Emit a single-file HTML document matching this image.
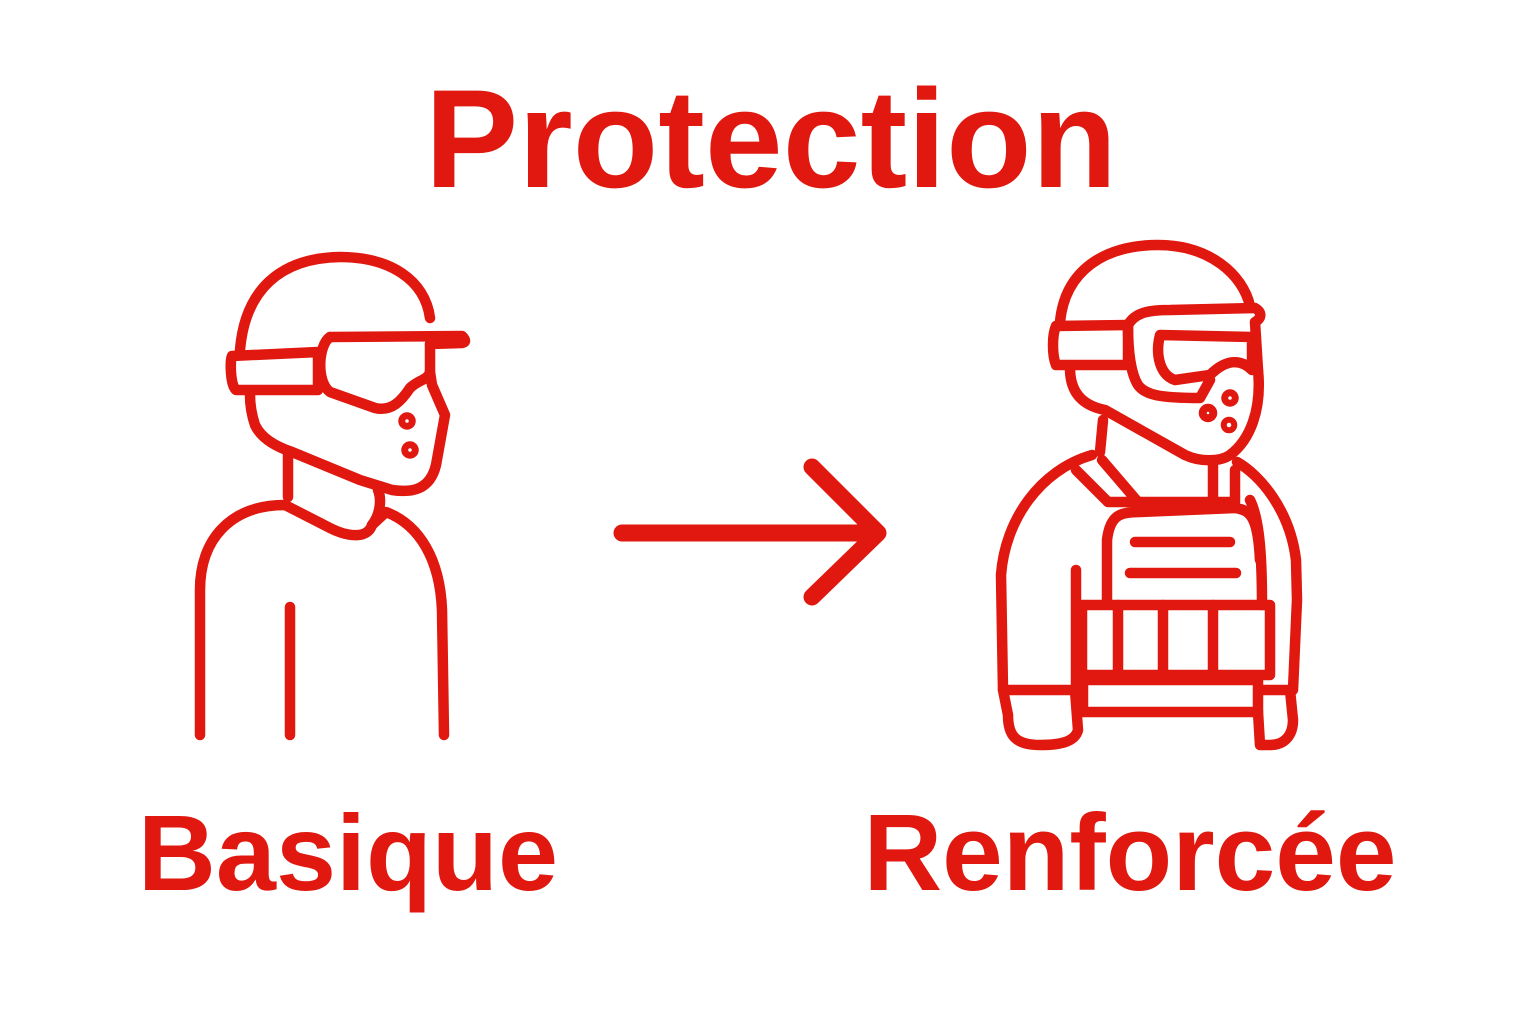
<!DOCTYPE html>
<html><head><meta charset="utf-8"><style>
html,body{margin:0;padding:0;background:#fff;}
svg{display:block}
text{font-family:"Liberation Sans",sans-serif;font-weight:bold;fill:#e0180f}
</style></head><body>
<svg width="1536" height="1024" viewBox="0 0 1536 1024">
<rect width="1536" height="1024" fill="#fff"/>
<text x="771" y="187" font-size="140" text-anchor="middle">Protection</text>
<text x="348" y="890" font-size="108" text-anchor="middle">Basique</text>
<text x="1130" y="890" font-size="109" text-anchor="middle">Renforcée</text>

<g fill="none" stroke="#e0180f" stroke-width="10.5" stroke-linecap="round" stroke-linejoin="round">
<!-- left figure -->
<path d="M240,350 C245,290 280,258 340,257 C390,257 425,280 430,318"/>
<path d="M330,337 L462,336 C466,340 466,342 462,343 L430,344"/>
<path d="M232,356 L318,352 L318,390 L236,390 C230,385 230,360 232,356 Z"/>
<path d="M330,337 C318,345 316,382 330,392 L375,408 C392,412 402,400 410,388 C418,380 428,380 430,372 L430,344"/>
<path d="M430,372 L432,385 L445,415 L436,465 C430,490 412,493 392,490 L360,480 L292,452 C280,448 262,440 255,425 C250,410 250,400 250,395"/>
<path d="M288,455 L288,497"/>
<path d="M378,490 C382,500 380,515 372,525"/>
<path d="M200,735 L200,590 C200,540 230,505 285,505 L330,528 C350,538 368,538 372,525 L386,512 C420,525 440,560 442,610 L444,735"/>
<path d="M290,607 L290,735"/>
<circle cx="407" cy="421" r="3.5"/><circle cx="410" cy="450" r="3.5"/>

<!-- arrow -->
<path d="M622,533 L878,533 M812,467 L878,533 L812,597" stroke-width="17"/>

<!-- right figure -->
<path d="M1060,322 C1065,270 1105,245 1158,245 C1210,245 1243,275 1250,306"/>
<path d="M1056,326 L1128,325 L1128,365 L1056,365 C1052,355 1052,335 1056,326 Z"/>
<path d="M1128,325 C1135,312 1150,310 1170,310 L1255,308 C1262,312 1262,318 1255,322 L1258,370"/>
<path d="M1128,325 C1128,350 1130,372 1138,385 C1145,395 1160,398 1200,398 L1210,380"/>
<path d="M1160,335 L1252,337 L1252,370 C1240,358 1225,360 1210,375 L1175,380 C1160,375 1155,355 1160,335 Z"/>
<path d="M1258,370 C1262,410 1250,440 1230,455 C1220,462 1200,462 1185,455 L1105,410 C1080,405 1070,390 1070,368"/>
<path d="M1103,420 L1100,452"/>
<path d="M1213,466 L1213,502"/>
<path d="M1003,690 L1001,575 C1005,520 1040,470 1092,455"/>
<path d="M1237,462 C1260,475 1290,510 1296,560 L1297,600 L1293,690"/>
<path d="M1076,470 L1108,502 L1138,502 L1102,460"/>
<path d="M1138,502 L1235,502 L1235,470"/>
<path d="M1250,500 C1260,520 1262,560 1262,605"/>
<path d="M1107,600 L1107,540 C1110,515 1120,512 1140,512 L1235,508 C1252,510 1258,520 1260,560"/>
<path d="M1135,542 L1230,542 M1130,573 L1236,573"/>
<path d="M1082,605 L1270,605 L1270,675 L1082,675 Z"/>
<path d="M1118,605 L1118,675 M1163,605 L1163,675 M1213,605 L1213,675"/>
<path d="M1076,570 L1076,690"/>
<path d="M1083,680 L1258,680 L1258,712 L1083,712 Z"/>
<path d="M1003,690 L1075,690 L1078,730 C1075,742 1060,745 1040,745 C1015,745 1008,735 1008,715 Z"/>
<path d="M1260,690 L1290,690 L1293,720 C1293,735 1285,745 1270,745 L1260,745 L1258,712"/>
<circle cx="1208" cy="413" r="4"/><circle cx="1230" cy="398" r="3.5"/><circle cx="1229" cy="425" r="3"/>
</g>
</svg>
</body></html>
